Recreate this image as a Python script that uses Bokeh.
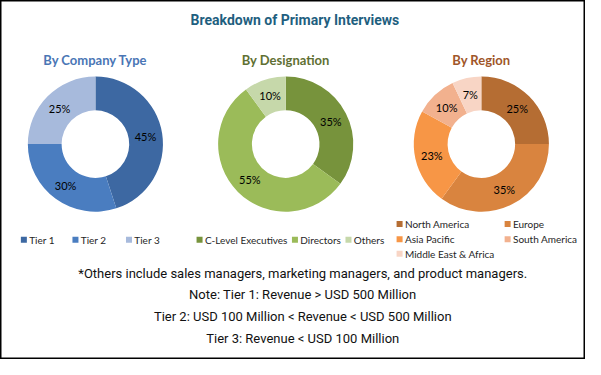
import numpy as np
from bokeh.plotting import figure
from bokeh.models import Range1d, ColumnDataSource
from bokeh.core.properties import value
from bokeh.embed import file_html
from bokeh.resources import INLINE

# ---------------- data ----------------
main_title = "Breakdown of Primary Interviews"

company_title = "By Company Type"
company_labels = ["Tier 1", "Tier 2", "Tier 3"]
company_values = [45, 30, 25]

designation_title = "By Designation"
designation_labels = ["C-Level Executives", "Directors", "Others"]
designation_values = [35, 55, 10]

region_title = "By Region"
region_labels = ["North America", "Europe", "Asia Pacific", "South America", "Middle East & Africa"]
region_values = [25, 35, 23, 10, 7]

footnotes = [
    "*Others include sales managers, marketing managers, and product managers.",
    "Note: Tier 1: Revenue > USD 500 Million",
    "Tier 2: USD 100 Million < Revenue < USD 500 Million",
    "Tier 3: Revenue < USD 100 Million",
]

# ---------------- style ----------------
company_colors = ["#3D68A2", "#4A7DC0", "#A7BADC"]
designation_colors = ["#77933C", "#9BBB59", "#C6D8AA"]
region_colors = ["#B56D33", "#D9843F", "#F79646", "#F2B18E", "#F8D5C5"]

W, H = 601, 375          # reference canvas coordinates
PW, PH = 585, 359        # figure size in the page
S = (PW / W + PH / H) / 2
R_OUT, R_IN = 70 * S, 35 * S
R_MID = 52.5 * S

p = figure(width=PW, height=PH, x_range=Range1d(0, W), y_range=Range1d(0, H),
           output_backend="svg", toolbar_location=None, min_border=0,
           x_axis_location=None, y_axis_location=None)
p.grid.visible = False
p.outline_line_color = "black"
p.outline_line_width = 2
p.background_fill_color = "white"
p.border_fill_color = "white"


def Y(y):
    return H - y


def txt(x, y, s, size, color="black", font="Lato", style="normal", align="center"):
    p.text(x=[x], y=[Y(y)], text=[s], text_font=value(font), text_font_size=f"{size}px",
           text_color=color, text_font_style=style, text_align=align, text_baseline="middle")


def donut(cx, cy, labels, vals, colors, title, title_color, legend):
    vals = np.array(vals, dtype=float)
    frac = vals / vals.sum()
    cum = np.concatenate([[0.0], np.cumsum(frac)])
    n = len(vals)
    start = np.pi / 2 - cum[1:] * 2 * np.pi
    end = np.pi / 2 - cum[:-1] * 2 * np.pi
    mid = (cum[:-1] + cum[1:]) / 2 * 2 * np.pi
    src = ColumnDataSource(dict(
        x=[cx] * n, y=[Y(cy)] * n, start=start, end=end, color=colors,
        lab=[f"{int(v)}%" for v in vals],
        dx=R_MID * np.sin(mid), dy=-R_MID * np.cos(mid),
    ))
    p.annular_wedge(x="x", y="y", inner_radius=R_IN, outer_radius=R_OUT,
                    inner_radius_units="screen", outer_radius_units="screen",
                    start_angle="start", end_angle="end", fill_color="color",
                    line_color=None, source=src)
    p.text(x="x", y="y", text="lab", x_offset="dx", y_offset="dy", source=src,
           text_font=value("Lato"), text_font_size="11px", text_color="black",
           text_align="center", text_baseline="middle")
    txt(cx, 62, title, 13, title_color, style="bold")
    for (lx, ly), lab, col in zip(legend, labels, colors):
        p.scatter(x=[lx], y=[Y(ly)], marker="square", size=6, fill_color=col, line_color=None)
        txt(lx + 5.5, ly, lab, 10, "#262626", align="left")


txt(W / 2 + 2, 20, main_title, 14, "#1F5F7F", font="Roboto", style="bold")

donut(97.5, 150, company_labels, company_values, company_colors, company_title, "#4A76B5",
      [(24, 250), (77, 250), (132, 250)])
donut(293, 150, designation_labels, designation_values, designation_colors, designation_title, "#5F7033",
      [(204.5, 250), (302.5, 250), (357.5, 250)])
donut(494, 150, region_labels, region_values, region_colors, region_title, "#A0562A",
      [(410, 233.5), (521, 233.5), (410, 249.5), (521, 249.5), (410, 264.5)])

for y, s in zip([285, 307, 330, 353], footnotes):
    txt(W / 2 + 10, y, s, 13, "#111111", font="Roboto")

open("out.html", "w").write(file_html(p, INLINE))
